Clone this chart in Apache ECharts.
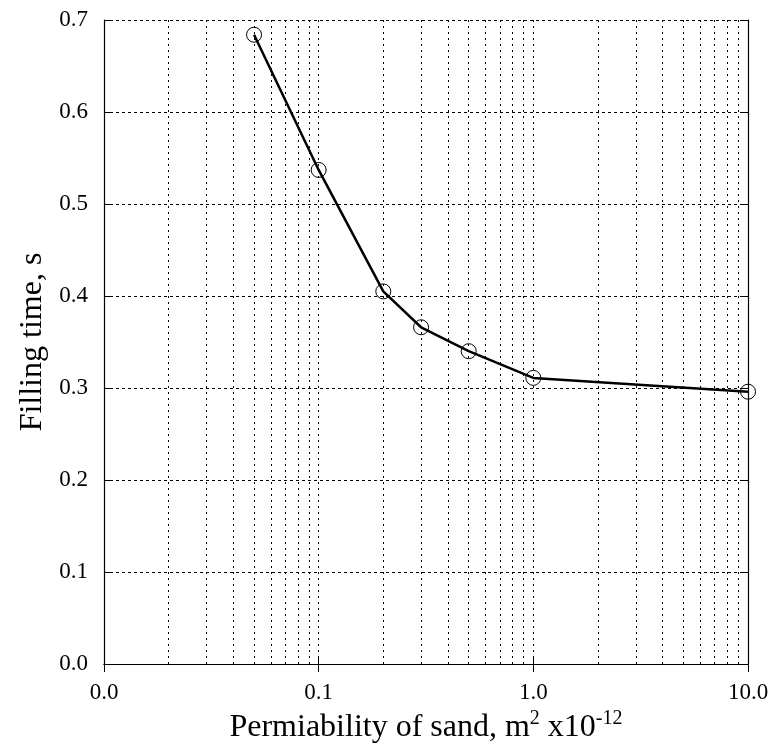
<!DOCTYPE html>
<html>
<head>
<meta charset="utf-8">
<script src="https://cdn.jsdelivr.net/npm/echarts@6/dist/echarts.min.js"></script>
<style>html,body{margin:0;padding:0;background:#fff;}#c{width:775px;height:749px;}</style>
</head>
<body>
<div id="c"></div>
<script>
var permeability = [0.05, 0.1, 0.2, 0.3, 0.5, 1.0, 10.0];
var fillingTime = [0.684, 0.537, 0.405, 0.366, 0.340, 0.311, 0.296];
var minorGridX = [0.02,0.03,0.04,0.05,0.06,0.07,0.08,0.09,0.2,0.3,0.4,0.5,0.6,0.7,0.8,0.9,2,3,4,5,6,7,8,9];
var xTitle = '{m|Permiability of sand, m}{sup|2}{m| x10}{sup|-12}';
var yTitle = 'Filling time, s';

var font = 'Liberation Serif';
var chart = echarts.init(document.getElementById('c'), null, {renderer: 'canvas'});
var frameLine = {show: true, lineStyle: {color: '#000', width: 1.2}};
chart.setOption({
  animation: false,
  backgroundColor: '#fff',
  grid: {left: 104, right: 27, top: 20, bottom: 85},
  xAxis: [{
    type: 'log', logBase: 10, min: 0.01, max: 10, position: 'bottom',
    axisLine: frameLine,
    axisTick: {show: true, inside: true, length: 8, lineStyle: {color: '#000'}},
    axisLabel: {fontFamily: font, fontSize: 23, color: '#000', margin: 17,
      formatter: function (v) { return Number(v).toFixed(1); }},
    splitLine: {show: true, lineStyle: {color: '#000', type: [2, 4], width: 1}},
    name: xTitle, nameLocation: 'middle', nameGap: 43,
    nameTextStyle: {fontFamily: font, fontSize: 32, color: '#000', verticalAlign: 'top',
      rich: {
        m: {fontFamily: font, fontSize: 32, lineHeight: 32, color: '#000', verticalAlign: 'bottom'},
        sup: {fontFamily: font, fontSize: 20, lineHeight: 20, color: '#000', verticalAlign: 'bottom', padding: [0, 0, 15, 0]}
      }}
  }, {
    type: 'log', logBase: 10, min: 0.01, max: 10, position: 'top',
    axisLine: frameLine,
    axisTick: {show: true, inside: true, length: 8, lineStyle: {color: '#000'}},
    axisLabel: {show: false}, splitLine: {show: false}
  }],
  yAxis: [{
    type: 'value', min: 0, max: 0.7, interval: 0.1, position: 'left',
    axisLine: frameLine,
    axisTick: {show: true, inside: true, length: 8, lineStyle: {color: '#000'}},
    axisLabel: {fontFamily: font, fontSize: 23, color: '#000', margin: 16,
      formatter: function (v) { return v.toFixed(1); }},
    splitLine: {show: true, lineStyle: {color: '#000', type: [3, 3], width: 1}},
    name: yTitle, nameLocation: 'middle', nameGap: 55,
    nameTextStyle: {fontFamily: font, fontSize: 32, color: '#000'}
  }, {
    type: 'value', min: 0, max: 0.7, interval: 0.1, position: 'right',
    axisLine: frameLine,
    axisTick: {show: true, inside: true, length: 8, lineStyle: {color: '#000'}},
    axisLabel: {show: false}, splitLine: {show: false}
  }],
  series: [{
    type: 'line',
    data: permeability.map(function (x, i) { return [x, fillingTime[i]]; }),
    clip: false,
    symbol: 'circle', symbolSize: 15,
    itemStyle: {color: 'rgba(0,0,0,0)', borderColor: '#000', borderWidth: 1},
    lineStyle: {color: '#000', width: 2.5},
    z: 5,
    markLine: {
      silent: true, symbol: ['none', 'none'], label: {show: false},
      lineStyle: {color: '#000', type: [2, 4], width: 1},
      animation: false,
      data: minorGridX.map(function (v) { return {xAxis: v}; })
    }
  }]
});
</script>
</body>
</html>
